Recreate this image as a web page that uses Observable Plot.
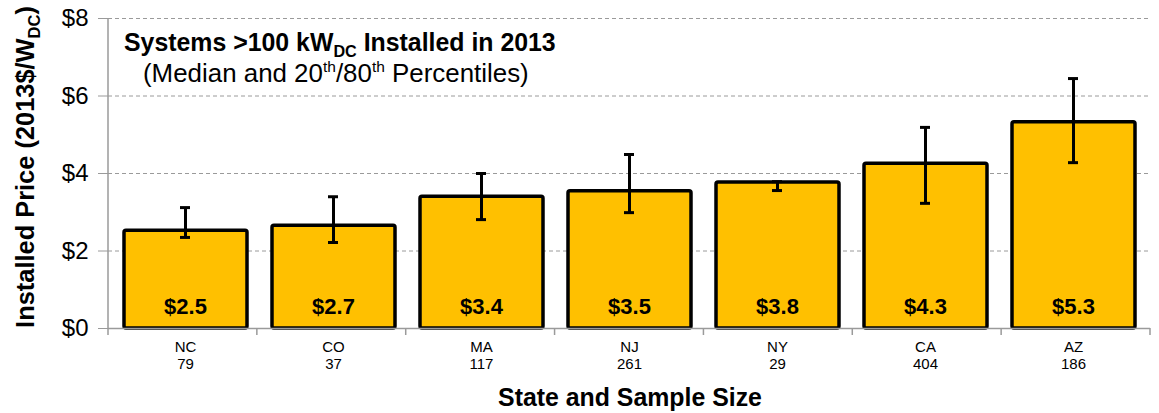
<!DOCTYPE html>
<html>
<head>
<meta charset="utf-8">
<script src="https://cdn.jsdelivr.net/npm/d3@7"></script>
<script src="https://cdn.jsdelivr.net/npm/@observablehq/plot@0.6"></script>
<style>
  html, body { margin: 0; padding: 0; background: #fff; }
  svg { font-family: "Liberation Sans", Arial, sans-serif; }
</style>
</head>
<body>
<div id="chart"></div>
<script>
const states = ["NC", "CO", "MA", "NJ", "NY", "CA", "AZ"];
const sampleSizes = [79, 37, 117, 261, 29, 404, 186];
const medians = [2.52, 2.65, 3.40, 3.54, 3.77, 4.25, 5.32];
const p20 = [2.35, 2.22, 2.81, 2.99, 3.56, 3.23, 4.28];
const p80 = [3.12, 3.40, 4.00, 4.49, 3.79, 5.19, 6.45];
const valueLabels = ["$2.5", "$2.7", "$3.4", "$3.5", "$3.8", "$4.3", "$5.3"];
const yTicks = [0, 2, 4, 6, 8];

const data = states.map((s, i) => ({
  state: s, n: sampleSizes[i], median: medians[i], lo: p20[i], hi: p80[i], label: valueLabels[i]
}));

const font = "'Liberation Sans', Arial, sans-serif";

const plot = Plot.plot({
  width: 1159,
  height: 413,
  marginLeft: 108,
  marginRight: 9,
  marginTop: 18,
  marginBottom: 85,
  style: { fontFamily: font, background: "#fff", overflow: "visible" },
  x: { domain: states, padding: 0, label: null, axis: null },
  y: { domain: [0, 8], label: null },
  marks: [
    Plot.gridY(yTicks, { stroke: "#9a9a9a", strokeOpacity: 1, strokeDasharray: "4,3", strokeWidth: 1 }),
    Plot.axisY(yTicks, {
      tickFormat: d => "$" + d, fontSize: 24, tickSize: 10, tickPadding: 10,
      stroke: "#9a9a9a", label: null, fill: "#000"
    }),
    Plot.text(data, {
      x: "state", text: d => d.state + "\n" + d.n, frameAnchor: "bottom", lineAnchor: "top",
      dy: 12, fontSize: 15, lineHeight: 1.12, fill: "#000"
    }),
    Plot.barY(data, {
      x: "state", y: "median", fill: "#FFC000", stroke: "#000", strokeWidth: 3.5,
      insetLeft: 13, insetRight: 12, rx: 2
    }),
    Plot.ruleY([0], { stroke: "#9a9a9a", strokeWidth: 1.5 }),
    Plot.ruleX(data, { x: "state", y1: "lo", y2: "hi", stroke: "#000", strokeWidth: 3 }),
    Plot.tickY(data, { x: "state", y: "lo", stroke: "#000", strokeWidth: 3, insetLeft: 69, insetRight: 69 }),
    Plot.tickY(data, { x: "state", y: "hi", stroke: "#000", strokeWidth: 3, insetLeft: 69, insetRight: 69 }),
    Plot.text(data, {
      x: "state", y: 0, text: "label", dy: -22, fontSize: 22, fontWeight: "bold", fill: "#000"
    })
  ]
});

document.getElementById("chart").appendChild(plot);

const svg = d3.select(plot);
const xs = plot.scale("x");
const ys = plot.scale("y");
const x0 = xs.range[0], x1 = xs.range[1];
const yTop = ys.apply(8), yBot = ys.apply(0);

// left axis line
svg.append("line").attr("x1", x0).attr("x2", x0).attr("y1", yTop).attr("y2", yBot)
  .attr("stroke", "#9a9a9a").attr("stroke-width", 1.5);
// category separator ticks
const step = (x1 - x0) / states.length;
for (let i = 0; i <= states.length; i++) {
  svg.append("line").attr("x1", x0 + i * step).attr("x2", x0 + i * step)
    .attr("y1", yBot).attr("y2", yBot + 7).attr("stroke", "#9a9a9a").attr("stroke-width", 1.5);
}

// scale a text element's font so its length matches a target
function fit(sel, target) {
  const base = +sel.attr("font-size");
  const len = sel.node().getComputedTextLength();
  const k = target / len;
  sel.attr("font-size", base * k);
  sel.selectAll("tspan").each(function () {
    const t = d3.select(this);
    if (t.attr("font-size")) t.attr("font-size", +t.attr("font-size") * k);
    if (t.attr("dy")) t.attr("dy", +t.attr("dy") * k);
  });
}

// title inside plot
const t1 = svg.append("text").attr("x", 124).attr("y", 51).attr("text-anchor", "start")
  .attr("font-size", 20).attr("font-weight", "bold").attr("fill", "#000");
t1.append("tspan").text("Systems >100 kW");
t1.append("tspan").attr("dy", 5).attr("font-size", 13).text("DC");
t1.append("tspan").attr("dy", -5).text(" Installed in 2013");
fit(t1, 432);

const t2 = svg.append("text").attr("x", 143).attr("y", 82).attr("text-anchor", "start")
  .attr("font-size", 20).attr("fill", "#000");
t2.append("tspan").text("(Median and 20");
t2.append("tspan").attr("dy", -8).attr("font-size", 12).text("th");
t2.append("tspan").attr("dy", 8).text("/80");
t2.append("tspan").attr("dy", -8).attr("font-size", 12).text("th");
t2.append("tspan").attr("dy", 8).text(" Percentiles)");
fit(t2, 386);

// y-axis title
const yl = svg.append("text").attr("transform", `translate(34,${(yTop + yBot) / 2 - 6}) rotate(-90)`)
  .attr("text-anchor", "middle").attr("font-size", 20).attr("font-weight", "bold").attr("fill", "#000");
yl.append("tspan").text("Installed Price (2013$/W");
yl.append("tspan").attr("dy", 5).attr("font-size", 13).text("DC");
yl.append("tspan").attr("dy", -5).text(")");
fit(yl, 322);

// x-axis title
const xt = svg.append("text").attr("x", 630).attr("y", 406)
  .attr("text-anchor", "middle").attr("font-size", 20).attr("font-weight", "bold").attr("fill", "#000")
  .text("State and Sample Size");
fit(xt, 264);
</script>
</body>
</html>
